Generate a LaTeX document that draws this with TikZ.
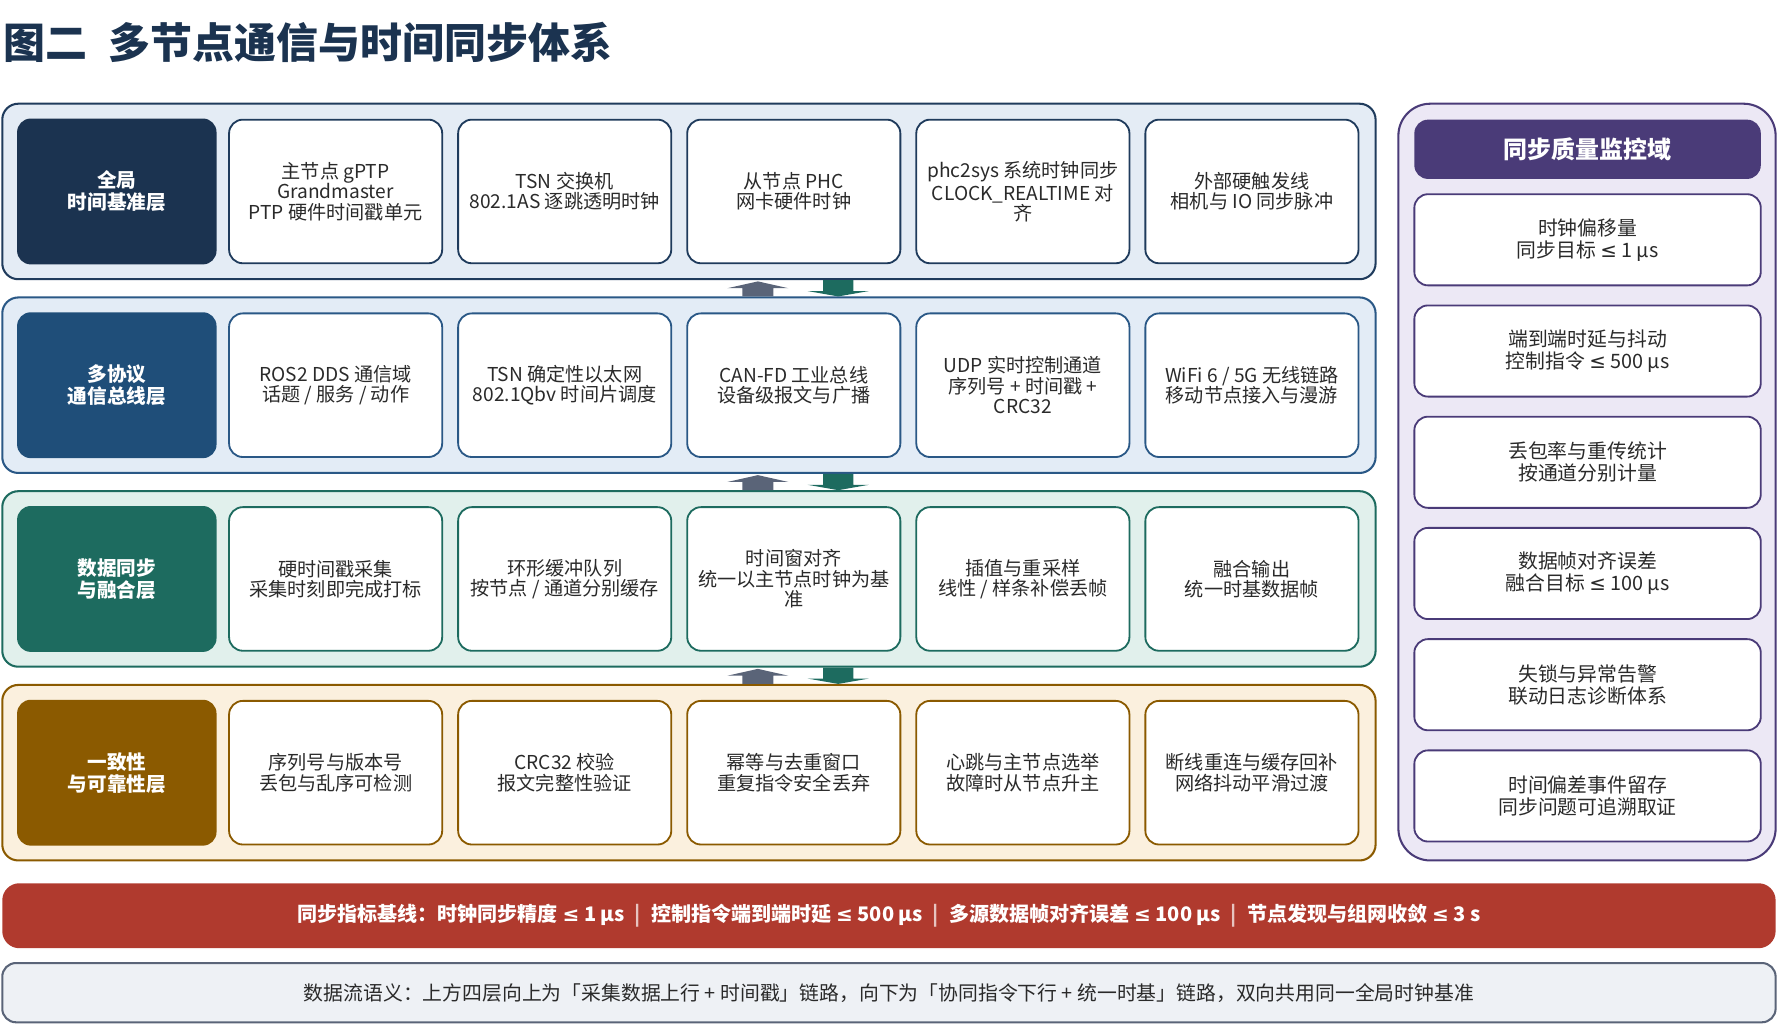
\documentclass[tikz,border=0pt]{standalone}
\usepackage{fontspec}
\setmainfont{Noto Sans CJK SC}
\newfontfamily\symfont{DejaVu Sans}
\newcommand{\lesym}{{\symfont ≤}}
\usetikzlibrary{positioning, calc}

\definecolor{laya}{HTML}{1B3350}
\definecolor{layaline}{HTML}{1F3B5C}
\definecolor{layabg}{HTML}{E4ECF5}
\definecolor{layb}{HTML}{1F4E79}
\definecolor{laybline}{HTML}{2A5886}
\definecolor{laybbg}{HTML}{E3ECF6}
\definecolor{layc}{HTML}{1D6B5F}
\definecolor{laycbg}{HTML}{E1F0EC}
\definecolor{layd}{HTML}{8B5A00}
\definecolor{laydbg}{HTML}{FBF0DE}
\definecolor{mon}{HTML}{4A3B78}
\definecolor{monbg}{HTML}{ECE8F5}
\definecolor{alert}{HTML}{B03A2E}
\definecolor{notebg}{HTML}{EEF1F5}
\definecolor{upgray}{HTML}{5A6478}
\definecolor{celltext}{HTML}{2A2A2A}

\tikzset{
  band/.style={draw, rounded corners=7pt, line width=0.9pt, minimum width=602.5pt, minimum height=77pt},
  laybox/.style={rounded corners=6pt, minimum width=87.5pt, minimum height=64pt, align=center, text=white, font=\bfseries\fontsize{8.6}{9.6}\selectfont},
  cellbox/.style={draw, fill=white, rounded corners=6pt, line width=0.8pt, minimum width=93.5pt, minimum height=63pt, align=center, text=celltext, font=\fontsize{8.4}{8.9}\selectfont},
  monitem/.style={draw=mon, fill=white, rounded corners=6pt, line width=0.8pt, minimum width=152pt, minimum height=40pt, align=center, text=celltext, font=\fontsize{8.7}{9.7}\selectfont},
}

\begin{document}
\begin{tikzpicture}[x=0.5pt, y=-0.5pt]
\useasboundingbox (0,0) rectangle (1568,899);

\node[anchor=west, inner sep=0pt, text=laya, font=\bfseries\fontsize{18.4}{22}\selectfont] (title) at (3,37) {图二\enspace 多节点通信与时间同步体系};

% layers
\node[band, draw=layaline, fill=layabg] (band1) at (604.5,168) {};
\node[band, draw=laybline, fill=laybbg] (band2) at (604.5,338) {};
\node[band, draw=layc, fill=laycbg] (band3) at (604.5,508) {};
\node[band, draw=layd, fill=laydbg] (band4) at (604.5,678) {};

\node[laybox, fill=laya] (l1) at (102.5,168) {全局\\时间基准层};
\node[cellbox, draw=layaline, right=4.9pt of l1] (c11) {主节点 gPTP\\Grandmaster\\PTP 硬件时间戳单元};
\node[cellbox, draw=layaline, right=6.2pt of c11] (c12) {TSN 交换机\\802.1AS 逐跳透明时钟};
\node[cellbox, draw=layaline, right=6.2pt of c12] (c13) {从节点 PHC\\网卡硬件时钟};
\node[cellbox, draw=layaline, right=6.2pt of c13] (c14) {phc2sys 系统时钟同步\\CLOCK\_REALTIME 对\\齐};
\node[cellbox, draw=layaline, right=6.2pt of c14] (c15) {外部硬触发线\\相机与 IO 同步脉冲};

\node[laybox, fill=layb] (l2) at (102.5,338) {多协议\\通信总线层};
\node[cellbox, draw=laybline, right=4.9pt of l2] (c21) {ROS2 DDS 通信域\\话题 / 服务 / 动作};
\node[cellbox, draw=laybline, right=6.2pt of c21] (c22) {TSN 确定性以太网\\802.1Qbv 时间片调度};
\node[cellbox, draw=laybline, right=6.2pt of c22] (c23) {CAN-FD 工业总线\\设备级报文与广播};
\node[cellbox, draw=laybline, right=6.2pt of c23] (c24) {UDP 实时控制通道\\序列号 + 时间戳 +\\CRC32};
\node[cellbox, draw=laybline, right=6.2pt of c24] (c25) {WiFi 6 / 5G 无线链路\\移动节点接入与漫游};

\node[laybox, fill=layc] (l3) at (102.5,508) {数据同步\\与融合层};
\node[cellbox, draw=layc, right=4.9pt of l3] (c31) {硬时间戳采集\\采集时刻即完成打标};
\node[cellbox, draw=layc, right=6.2pt of c31] (c32) {环形缓冲队列\\按节点 / 通道分别缓存};
\node[cellbox, draw=layc, right=6.2pt of c32] (c33) {时间窗对齐\\统一以主节点时钟为基\\准};
\node[cellbox, draw=layc, right=6.2pt of c33] (c34) {插值与重采样\\线性 / 样条补偿丢帧};
\node[cellbox, draw=layc, right=6.2pt of c34] (c35) {融合输出\\统一时基数据帧};

\node[laybox, fill=layd] (l4) at (102.5,678) {一致性\\与可靠性层};
\node[cellbox, draw=layd, right=4.9pt of l4] (c41) {序列号与版本号\\丢包与乱序可检测};
\node[cellbox, draw=layd, right=6.2pt of c41] (c42) {CRC32 校验\\报文完整性验证};
\node[cellbox, draw=layd, right=6.2pt of c42] (c43) {幂等与去重窗口\\重复指令安全丢弃};
\node[cellbox, draw=layd, right=6.2pt of c43] (c44) {心跳与主节点选举\\故障时从节点升主};
\node[cellbox, draw=layd, right=6.2pt of c44] (c45) {断线重连与缓存回补\\网络抖动平滑过渡};

% up / down flow between layers
\foreach \a/\b in {band1/band2, band2/band3, band3/band4}{
  \fill[upgray] ($(\a.south)+(60.5,1)$) -- ++(26.8,6) -- ++(-13.2,0) -- ($(\b.north)+(74.1,0)$) -- ++(-27.2,0) -- ($(\a.south)+(46.9,7)$) -- ++(-13.2,0) -- cycle;
  \fill[layc] ($(\a.south)+(117.8,0)$) -- ++(26.4,0) -- ($(\a.south)+(144.2,9.5)$) -- ++(13.6,0) -- ($(\b.north)+(131,0)$) -- ($(\a.south)+(104.2,9.5)$) -- ++(13.6,0) -- cycle;
}

% monitor side panel
\node[draw=mon, fill=monbg, rounded corners=14pt, line width=0.9pt, minimum width=165.5pt, minimum height=332pt] (monpanel) at (1392.5,423) {};
\node[fill=mon, rounded corners=6pt, minimum width=152pt, minimum height=26pt, text=white, font=\bfseries\fontsize{10.5}{12}\selectfont] (monhead) at (1393,131) {同步质量监控域};
\node[monitem, below=6.1pt of monhead] (m1) {时钟偏移量\\同步目标 \lesym{} 1 μs};
\node[monitem, below=8pt of m1] (m2) {端到端时延与抖动\\控制指令 \lesym{} 500 μs};
\node[monitem, below=8pt of m2] (m3) {丢包率与重传统计\\按通道分别计量};
\node[monitem, below=8pt of m3] (m4) {数据帧对齐误差\\融合目标 \lesym{} 100 μs};
\node[monitem, below=8pt of m4] (m5) {失锁与异常告警\\联动日志诊断体系};
\node[monitem, below=8pt of m5] (m6) {时间偏差事件留存\\同步问题可追溯取证};

% baseline and note
\node[fill=alert, rounded corners=7.5pt, minimum width=778pt, minimum height=28.5pt, text=white, font=\bfseries\fontsize{8.8}{10}\selectfont] (baseline) at (780,803.5) {同步指标基线：时钟同步精度 \lesym{} 1 μs\enspace{\color{white!70!alert}|}\enspace 控制指令端到端时延 \lesym{} 500 μs\enspace{\color{white!70!alert}|}\enspace 多源数据帧对齐误差 \lesym{} 100 μs\enspace{\color{white!70!alert}|}\enspace 节点发现与组网收敛 \lesym{} 3 s};
\node[draw=upgray, fill=notebg, rounded corners=6pt, line width=0.9pt, minimum width=778pt, minimum height=26pt, text=celltext, font=\fontsize{8.7}{10}\selectfont] (note) at (780,871) {数据流语义：上方四层向上为「采集数据上行 + 时间戳」链路，向下为「协同指令下行 + 统一时基」链路，双向共用同一全局时钟基准};
\end{tikzpicture}
\end{document}
